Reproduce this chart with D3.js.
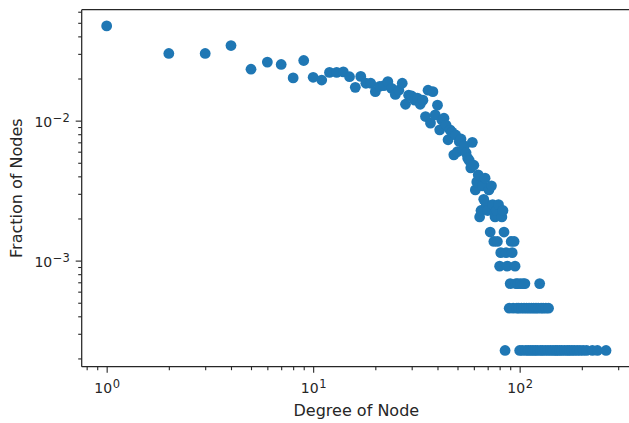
<!DOCTYPE html>
<html>
<head>
<meta charset="utf-8">
<script src="https://cdn.jsdelivr.net/npm/d3@7"></script>
<style>
  body { margin: 0; background: #fff; }
  svg { display: block; font-family: "DejaVu Sans", sans-serif; }
</style>
</head>
<body>
<svg id="chart" width="629" height="423"></svg>
<script>
// degree distribution (log-log scatter)
const degrees = [
  1, 2, 3, 4, 5, 6, 7, 8, 9, 10,
  11, 12, 13, 14, 15, 16, 17, 18, 19, 20,
  21, 22, 23, 24, 25, 26, 27, 28, 29, 30,
  31, 32, 33, 34, 35, 36, 37, 38, 39, 40,
  41, 42, 43, 44, 45, 46, 47, 48, 49, 50,
  51, 52, 53, 54, 55, 56, 57, 58, 59, 60,
  61, 62, 63, 64, 65, 66, 67, 68, 69, 70,
  71, 72, 73, 74, 75, 76, 77, 78, 79, 80,
  81, 82, 83, 84, 85, 86, 87, 89, 90, 91,
  92, 93, 94, 95, 96, 97, 98, 99, 100, 101,
  102, 103, 104, 105, 106, 107, 108, 110, 111, 113,
  114, 116, 117, 119, 120, 122, 123, 125, 126, 127,
  129, 130, 133, 134, 137, 138, 141, 145, 149, 152,
  156, 160, 165, 170, 174, 179, 184, 190, 196, 203,
  211, 225, 238, 262
];
const fractions = [
  0.0475, 0.0302, 0.0302, 0.0344, 0.0233, 0.0262, 0.0252, 0.0202, 0.0269, 0.0204,
  0.0195, 0.0221, 0.0221, 0.0223, 0.0206, 0.0173, 0.0207, 0.0185, 0.0185, 0.0161,
  0.0176, 0.0178, 0.0190, 0.0170, 0.0154, 0.0165, 0.0185, 0.0131, 0.0152, 0.0150,
  0.0140, 0.0145, 0.0131, 0.0140, 0.0107, 0.0165, 0.0096, 0.0161, 0.0110, 0.0129,
  0.0086, 0.0101, 0.0104, 0.0093, 0.0073, 0.0086, 0.0083, 0.0057, 0.0079, 0.0060,
  0.0071, 0.0074, 0.0062, 0.0066, 0.0059, 0.0054, 0.0052, 0.0046, 0.0070, 0.0048,
  0.00320, 0.00365, 0.0041, 0.00205, 0.00228, 0.00342, 0.00274, 0.00388, 0.00251, 0.00228,
  0.00320, 0.00160, 0.00342, 0.00251, 0.00137, 0.00205, 0.00228, 0.00137, 0.00251, 0.000913,
  0.00114, 0.00205, 0.00228, 0.00160, 0.000228, 0.00114, 0.000913, 0.000457, 0.000685, 0.00137,
  0.00114, 0.000457, 0.00137, 0.000913, 0.000685, 0.000457, 0.000685, 0.000457, 0.000228, 0.000685,
  0.000457, 0.000228, 0.000685, 0.000457, 0.000685, 0.000228, 0.000457, 0.000228, 0.000457, 0.000228,
  0.000457, 0.000228, 0.000457, 0.000228, 0.000457, 0.000228, 0.000457, 0.000685, 0.000228, 0.000457,
  0.000228, 0.000457, 0.000228, 0.000457, 0.000228, 0.000457, 0.000228, 0.000228, 0.000228, 0.000228,
  0.000228, 0.000228, 0.000228, 0.000228, 0.000228, 0.000228, 0.000228, 0.000228, 0.000228, 0.000228,
  0.000228, 0.000228, 0.000228, 0.000228
];
const xMajor = [1, 10, 100];
const xMinor = [0.8, 0.9, 2, 3, 4, 5, 6, 7, 8, 9, 20, 30, 40, 50, 60, 70, 80, 90, 200, 300];
const yMajor = [1e-3, 1e-2];
const yMinor = [2e-4, 3e-4, 4e-4, 5e-4, 6e-4, 7e-4, 8e-4, 9e-4,
                2e-3, 3e-3, 4e-3, 5e-3, 6e-3, 7e-3, 8e-3, 9e-3,
                2e-2, 3e-2, 4e-2, 5e-2, 6e-2];
const xLabel = 'Degree of Node';
const yLabel = 'Fraction of Nodes';

const points = degrees.map((d, i) => ({deg: d, frac: fractions[i]}));

const svg = d3.select('#chart');
const mLeft = 81.7, mRight = 631, mTop = 9.7, mBottom = 366.7;
const ink = '#262626';

// log extent with 5% padding like matplotlib
function padLog(ext){
  const a = Math.log10(ext[0]), b = Math.log10(ext[1]);
  const p = (b - a) * 0.05;
  return [Math.pow(10, a - p), Math.pow(10, b + p)];
}
const x = d3.scaleLog().domain(padLog(d3.extent(degrees))).range([mLeft, mRight]);
const y = d3.scaleLog().domain(padLog(d3.extent(fractions))).range([mBottom, mTop]);

// power-of-ten labels
function powLabel(sel, v){
  const e = Math.round(Math.log10(v));
  sel.text('');
  sel.append('tspan').style('font-size', '14px').text('10');
  sel.append('tspan').attr('dx', '0.5').attr('dy', '-0.5em').style('font-size', '11.5px')
    .text(e < 0 ? '\u2212' + (-e) : String(e));
}

// x axis
const gx = svg.append('g').attr('transform', `translate(0,${mBottom})`);
gx.append('g').call(d3.axisBottom(x).tickValues(xMinor).tickFormat('').tickSize(3.5));
gx.append('g').call(d3.axisBottom(x).tickValues(xMajor).tickSize(6).tickPadding(6))
  .attr('font-size', 14).attr('font-family', 'DejaVu Sans')
  .selectAll('.tick text')
  .style('font-size', '14px').attr('fill', ink)
  .attr('dy', '1.05em')
  .each(function(d){ powLabel(d3.select(this), d); });

// y axis
const gy = svg.append('g').attr('transform', `translate(${mLeft},0)`);
gy.append('g').call(d3.axisLeft(y).tickValues(yMinor).tickFormat('').tickSize(3.5));
gy.append('g').call(d3.axisLeft(y).tickValues(yMajor).tickSize(6).tickPadding(6))
  .attr('font-size', 14).attr('font-family', 'DejaVu Sans')
  .selectAll('.tick text')
  .style('font-size', '14px').attr('fill', ink)
  .attr('dy', '0.45em')
  .each(function(d){ powLabel(d3.select(this), d); });

svg.selectAll('.domain').remove();
svg.selectAll('.tick line').attr('stroke', ink).attr('stroke-width', 1.1);

// spines: left, bottom, top (right falls outside the picture)
const spines = svg.append('g').attr('stroke', ink).attr('stroke-width', 1.25).attr('fill', 'none');
spines.append('line').attr('x1', mLeft).attr('x2', mLeft).attr('y1', mTop).attr('y2', mBottom);
spines.append('line').attr('x1', mLeft).attr('x2', mRight).attr('y1', mBottom).attr('y2', mBottom);
spines.append('line').attr('x1', mLeft).attr('x2', mRight).attr('y1', mTop).attr('y2', mTop);

// points
svg.append('g')
  .selectAll('circle')
  .data(points)
  .join('circle')
  .attr('cx', d => x(d.deg))
  .attr('cy', d => y(d.frac))
  .attr('r', 5.4)
  .attr('fill', '#1f77b4');

// axis labels
svg.append('text')
  .attr('x', (mLeft + mRight) / 2).attr('y', 416)
  .attr('text-anchor', 'middle').attr('font-size', '16px').attr('fill', ink)
  .text(xLabel);
svg.append('text')
  .attr('transform', `translate(21.5,${(mTop + mBottom) / 2}) rotate(-90)`)
  .attr('text-anchor', 'middle').attr('font-size', '16px').attr('fill', ink)
  .text(yLabel);
</script>
</body>
</html>
